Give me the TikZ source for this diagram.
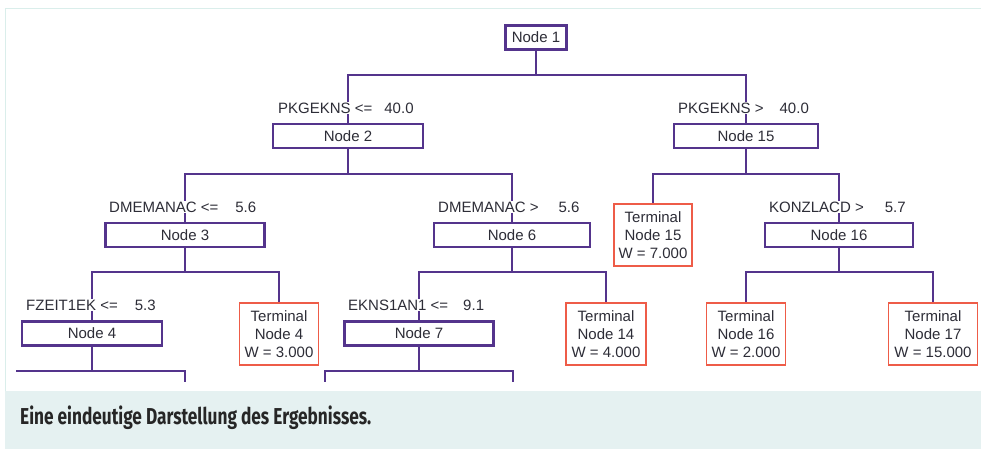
\documentclass[tikz,border=0pt]{standalone}
\usepackage{fontspec}
\setmainfont{Liberation Sans}
\newfontfamily\capfont[FakeStretch=0.75]{Fira Sans}
\usetikzlibrary{positioning}
\definecolor{treeline}{RGB}{84,52,140}
\definecolor{termred}{RGB}{238,92,72}
\definecolor{capbg}{RGB}{229,241,241}
\definecolor{framec}{RGB}{218,238,235}
\definecolor{ink}{RGB}{45,45,55}

\begin{document}
\begin{tikzpicture}[x=1pt,y=-1pt,inner sep=0pt]
  \useasboundingbox(0,0)rectangle(981,449);
  \fill[capbg](5,391)rectangle(981,449);
  \draw[framec,line width=1pt](5.5,391)--(5.5,8.5)--(981,8.5);
  \tikzstyle{v}=[draw=treeline,line width=2.3pt,fill=white,minimum height=24pt,text=ink,font=\fontsize{15}{18}\selectfont]
  \tikzstyle{t}=[draw=termred,line width=1.5pt,fill=white,minimum width=79pt,minimum height=62pt,align=center,text=ink,font=\fontsize{15}{18}\selectfont]
  \tikzstyle{l}=[fill=white,inner sep=1pt,anchor=west,text=ink,font=\fontsize{15}{18}\selectfont]
  \node[v,minimum width=61pt](n1)at(536,37.5){Node 1};
  \node[v,minimum width=150pt](n2)at(348,136){Node 2};
  \node[v,minimum width=144pt](n15)at(746,136){Node 15};
  \node[v,minimum width=159pt](n3)at(185,235){Node 3};
  \node[v,minimum width=156pt](n6)at(512,235){Node 6};
  \node[t,minimum width=78pt](t15)at(653,235){Terminal\\Node 15\\W = 7.000};
  \node[v,minimum width=148pt](n16)at(839,235){Node 16};
  \node[v,minimum width=140pt](n4)at(92,333.5){Node 4};
  \node[t](t4)at(279,334){Terminal\\Node 4\\W = 3.000};
  \node[v,minimum width=149pt](n7)at(419,333.5){Node 7};
  \node[t,minimum width=80pt](t14)at(606,334){Terminal\\Node 14\\W = 4.000};
  \node[t](t16)at(746,334){Terminal\\Node 16\\W = 2.000};
  \node[t,minimum width=89pt](t17)at(933,334){Terminal\\Node 17\\W = 15.000};
  \coordinate(k4a)at(16,371);
  \coordinate(k4b)at(185,382);
  \coordinate(k7a)at(325,382);
  \coordinate(k7b)at(513,382);
  \tikzstyle{e}=[draw=treeline,line width=2.3pt]
  \foreach\o/\d/\y in{n1/n2/75,n1/n15/75,n2/n3/174,n2/n6/174,n15/t15/174,n15/n16/174,n3/n4/272,n3/t4/272,n6/n7/272,n6/t14/272,n16/t16/272,n16/t17/272,n4/k4b/371,n7/k7a/371,n7/k7b/371}{\draw[e](\o.south)|-(\d|-0,\y)--(\d);}
  \draw[e](n4.south)|-(k4a);
  \node[l](l2)at(277,108){PKGEKNS <=\hspace{12pt}40.0};
  \node[l](l15)at(677,108){PKGEKNS >\hspace{16pt}40.0};
  \node[l](l3)at(108,207){DMEMANAC <=\hspace{17pt}5.6};
  \node[l](l6)at(437,207){DMEMANAC >\hspace{20pt}5.6};
  \node[l](l16)at(768,207){KONZLACD >\hspace{21pt}5.7};
  \node[l](l4)at(25,305){FZEIT1EK <=\hspace{17pt}5.3};
  \node[l](l7)at(347,305){EKNS1AN1 <=\hspace{15pt}9.1};
  \node[anchor=west,text=black!85,font=\capfont\bfseries\fontsize{23}{27}\selectfont](cap)at(20,418){Eine eindeutige Darstellung des Ergebnisses.};
\end{tikzpicture}
\end{document}
